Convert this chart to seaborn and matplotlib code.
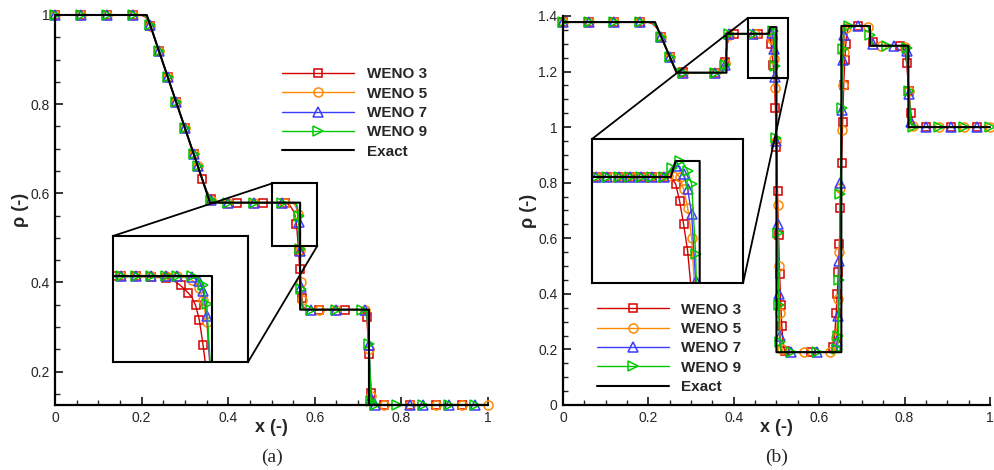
import matplotlib
matplotlib.use("Agg")
import matplotlib.pyplot as plt
import seaborn as sns
from matplotlib.lines import Line2D
from matplotlib.patches import Rectangle, ConnectionPatch
from matplotlib.ticker import MultipleLocator, FuncFormatter

# ---------------- panel (a) ----------------
x_a = [0.0, 0.03, 0.06, 0.09, 0.12, 0.15, 0.18, 0.20,
       0.21, 0.22, 0.23, 0.24, 0.25, 0.26, 0.27, 0.28, 0.29, 0.30, 0.31, 0.32, 0.33, 0.34, 0.35, 0.36, 0.37,
       0.38, 0.40, 0.42, 0.44, 0.46, 0.48,
       0.49, 0.495, 0.50, 0.505, 0.51, 0.515, 0.52, 0.525, 0.53, 0.535, 0.54,
       0.5425, 0.545, 0.5475, 0.55, 0.5525, 0.555, 0.5575, 0.56, 0.5625, 0.565, 0.5675, 0.57, 0.5725, 0.575, 0.5775, 0.58,
       0.59, 0.61, 0.63, 0.65, 0.67, 0.69, 0.70,
       0.71, 0.715, 0.72, 0.725, 0.73, 0.735, 0.74,
       0.76, 0.79, 0.82, 0.85, 0.88, 0.91, 0.94, 0.97, 1.0]

weno3_a = [1.0, 1.0, 1.0, 1.0, 1.0, 1.0, 1.0, 0.999,
           0.995, 0.975, 0.948, 0.919, 0.891, 0.862, 0.833, 0.804, 0.776, 0.747, 0.718, 0.689, 0.661, 0.633, 0.606, 0.588, 0.582,
           0.580, 0.579, 0.579, 0.579, 0.579, 0.579,
           0.579, 0.579, 0.579, 0.579, 0.579, 0.579, 0.579, 0.578, 0.578, 0.577, 0.575,
           0.572, 0.569, 0.565, 0.561, 0.556, 0.547, 0.531, 0.503, 0.470, 0.430, 0.390, 0.365, 0.350, 0.343, 0.340, 0.339,
           0.339, 0.339, 0.339, 0.339, 0.339, 0.339, 0.339,
           0.338, 0.336, 0.322, 0.240, 0.152, 0.129, 0.125,
           0.125, 0.125, 0.125, 0.125, 0.125, 0.125, 0.125, 0.125, 0.125]
weno5_a = [1.0, 1.0, 1.0, 1.0, 1.0, 1.0, 1.0, 1.0,
           0.997, 0.976, 0.948, 0.919, 0.891, 0.862, 0.833, 0.804, 0.776, 0.747, 0.718, 0.689, 0.661, 0.632, 0.605, 0.586, 0.581,
           0.579, 0.579, 0.579, 0.579, 0.579, 0.579,
           0.579, 0.579, 0.579, 0.579, 0.579, 0.579, 0.579, 0.579, 0.579, 0.579, 0.579,
           0.579, 0.579, 0.578, 0.577, 0.575, 0.572, 0.566, 0.553, 0.528, 0.472, 0.400, 0.360, 0.345, 0.340, 0.339, 0.339,
           0.339, 0.339, 0.339, 0.339, 0.339, 0.339, 0.339,
           0.339, 0.338, 0.330, 0.250, 0.145, 0.126, 0.125,
           0.125, 0.125, 0.125, 0.125, 0.125, 0.125, 0.125, 0.125, 0.125]
weno7_a = [1.0, 1.0, 1.0, 1.0, 1.0, 1.0, 1.0, 1.0,
           0.998, 0.977, 0.948, 0.919, 0.891, 0.862, 0.833, 0.804, 0.776, 0.747, 0.718, 0.689, 0.661, 0.632, 0.604, 0.585, 0.580,
           0.579, 0.579, 0.579, 0.579, 0.579, 0.579,
           0.579, 0.579, 0.579, 0.579, 0.579, 0.579, 0.579, 0.579, 0.579, 0.579, 0.579,
           0.579, 0.579, 0.579, 0.579, 0.578, 0.577, 0.574, 0.563, 0.535, 0.470, 0.390, 0.352, 0.342, 0.339, 0.339, 0.339,
           0.339, 0.339, 0.339, 0.339, 0.339, 0.339, 0.339,
           0.339, 0.339, 0.334, 0.260, 0.140, 0.125, 0.125,
           0.125, 0.125, 0.125, 0.125, 0.125, 0.125, 0.125, 0.125, 0.125]
weno9_a = [1.0, 1.0, 1.0, 1.0, 1.0, 1.0, 1.0, 1.0,
           0.998, 0.977, 0.948, 0.919, 0.891, 0.862, 0.833, 0.804, 0.776, 0.747, 0.718, 0.689, 0.661, 0.632, 0.604, 0.584, 0.580,
           0.579, 0.579, 0.579, 0.579, 0.579, 0.579,
           0.579, 0.579, 0.579, 0.579, 0.579, 0.579, 0.579, 0.579, 0.579, 0.579, 0.579,
           0.579, 0.579, 0.579, 0.579, 0.579, 0.578, 0.577, 0.569, 0.548, 0.475, 0.385, 0.348, 0.340, 0.339, 0.339, 0.339,
           0.339, 0.339, 0.339, 0.339, 0.339, 0.339, 0.339,
           0.339, 0.339, 0.336, 0.262, 0.135, 0.125, 0.125,
           0.125, 0.125, 0.125, 0.125, 0.125, 0.125, 0.125, 0.125, 0.125]
exact_x_a = [0.0, 0.212, 0.358, 0.566, 0.566, 0.725, 0.725, 1.0]
exact_y_a = [1.0, 1.0, 0.579, 0.579, 0.339, 0.339, 0.125, 0.125]

# ---------------- panel (b) ----------------
x_b = [0.0, 0.03, 0.06, 0.09, 0.12, 0.15, 0.18, 0.20,
       0.21, 0.22, 0.23, 0.24, 0.25, 0.26, 0.27, 0.28,
       0.30, 0.33, 0.355, 0.37,
       0.375, 0.38, 0.385, 0.39,
       0.40, 0.415, 0.43, 0.4355, 0.439, 0.4425, 0.446, 0.4495, 0.453, 0.4565, 0.46, 0.4635, 0.467, 0.4705, 0.474, 0.4775, 0.48,
       0.4825, 0.485, 0.4875, 0.49, 0.4925, 0.495, 0.4975, 0.50, 0.5025, 0.505, 0.5075, 0.51, 0.5125, 0.515, 0.5175, 0.52,
       0.535, 0.55, 0.565, 0.58, 0.595, 0.61, 0.625,
       0.63, 0.6325, 0.635, 0.6375, 0.64, 0.6425, 0.645, 0.6475, 0.65, 0.6525, 0.655, 0.6575, 0.66, 0.6625, 0.665, 0.6675, 0.67,
       0.68, 0.69, 0.70, 0.71,
       0.715, 0.72, 0.725, 0.73,
       0.745, 0.76, 0.775, 0.79,
       0.795, 0.80, 0.805, 0.81, 0.815, 0.82, 0.825,
       0.85, 0.88, 0.91, 0.94, 0.97, 1.0]

weno3_b = [1.378, 1.378, 1.378, 1.378, 1.378, 1.378, 1.378, 1.377,
           1.372, 1.356, 1.326, 1.290, 1.254, 1.220, 1.201, 1.197,
           1.196, 1.196, 1.196, 1.197,
           1.202, 1.235, 1.300, 1.328,
           1.334, 1.336, 1.336, 1.336, 1.336, 1.336, 1.336, 1.336, 1.336, 1.336, 1.336, 1.336, 1.336, 1.336, 1.336, 1.336, 1.336,
           1.334, 1.326, 1.300, 1.265, 1.225, 1.160, 1.070, 0.930, 0.770, 0.610, 0.470, 0.360, 0.285, 0.235, 0.205, 0.194,
           0.191, 0.190, 0.190, 0.190, 0.190, 0.190, 0.190,
           0.195, 0.210, 0.235, 0.275, 0.330, 0.400, 0.480, 0.580, 0.710, 0.870, 1.020, 1.150, 1.240, 1.300, 1.335, 1.352, 1.360,
           1.364, 1.364, 1.364, 1.364,
           1.360, 1.335, 1.305, 1.295,
           1.293, 1.293, 1.293, 1.293,
           1.290, 1.275, 1.230, 1.130, 1.050, 1.015, 1.003,
           1.0, 1.0, 1.0, 1.0, 1.0, 1.0]
weno5_b = [1.378, 1.378, 1.378, 1.378, 1.378, 1.378, 1.378, 1.378,
           1.375, 1.358, 1.326, 1.290, 1.254, 1.219, 1.199, 1.196,
           1.196, 1.196, 1.196, 1.196,
           1.198, 1.230, 1.310, 1.333,
           1.336, 1.336, 1.336, 1.336, 1.336, 1.336, 1.336, 1.336, 1.336, 1.336, 1.336, 1.336, 1.336, 1.336, 1.336, 1.336, 1.338,
           1.342, 1.343, 1.336, 1.318, 1.290, 1.245, 1.140, 0.950, 0.720, 0.500, 0.330, 0.240, 0.203, 0.192, 0.190, 0.190,
           0.190, 0.190, 0.190, 0.190, 0.190, 0.190, 0.190,
           0.190, 0.190, 0.195, 0.210, 0.240, 0.300, 0.380, 0.550, 0.780, 0.990, 1.150, 1.270, 1.330, 1.355, 1.362, 1.364, 1.364,
           1.364, 1.364, 1.364, 1.364,
           1.362, 1.335, 1.300, 1.293,
           1.293, 1.293, 1.293, 1.293,
           1.293, 1.290, 1.260, 1.130, 1.030, 1.003, 1.0,
           1.0, 1.0, 1.0, 1.0, 1.0, 1.0]
weno7_b = [1.378, 1.378, 1.378, 1.378, 1.378, 1.378, 1.378, 1.378,
           1.376, 1.359, 1.326, 1.290, 1.254, 1.219, 1.198, 1.196,
           1.196, 1.196, 1.196, 1.196,
           1.197, 1.225, 1.318, 1.335,
           1.336, 1.336, 1.336, 1.336, 1.336, 1.336, 1.336, 1.336, 1.336, 1.336, 1.336, 1.336, 1.336, 1.336, 1.336, 1.336, 1.340,
           1.347, 1.352, 1.352, 1.340, 1.318, 1.280, 1.180, 0.950, 0.650, 0.400, 0.250, 0.200, 0.190, 0.190, 0.190, 0.190,
           0.190, 0.190, 0.190, 0.190, 0.190, 0.190, 0.190,
           0.190, 0.190, 0.190, 0.190, 0.200, 0.230, 0.320, 0.520, 0.800, 1.060, 1.240, 1.330, 1.360, 1.366, 1.366, 1.364, 1.364,
           1.364, 1.364, 1.364, 1.364,
           1.363, 1.330, 1.298, 1.293,
           1.293, 1.293, 1.293, 1.293,
           1.293, 1.292, 1.275, 1.120, 1.020, 1.0, 1.0,
           1.0, 1.0, 1.0, 1.0, 1.0, 1.0]
weno9_b = [1.378, 1.378, 1.378, 1.378, 1.378, 1.378, 1.378, 1.378,
           1.377, 1.359, 1.326, 1.290, 1.254, 1.219, 1.198, 1.196,
           1.196, 1.196, 1.196, 1.196,
           1.196, 1.222, 1.322, 1.336,
           1.336, 1.336, 1.336, 1.336, 1.336, 1.336, 1.336, 1.336, 1.336, 1.336, 1.336, 1.336, 1.336, 1.336, 1.336, 1.336, 1.342,
           1.350, 1.357, 1.360, 1.356, 1.345, 1.325, 1.220, 0.960, 0.620, 0.360, 0.225, 0.193, 0.190, 0.190, 0.190, 0.190,
           0.190, 0.190, 0.190, 0.190, 0.190, 0.190, 0.190,
           0.190, 0.190, 0.190, 0.190, 0.190, 0.200, 0.250, 0.450, 0.760, 1.070, 1.280, 1.350, 1.368, 1.367, 1.364, 1.364, 1.364,
           1.364, 1.364, 1.364, 1.364,
           1.364, 1.330, 1.296, 1.293,
           1.293, 1.293, 1.293, 1.293,
           1.293, 1.293, 1.285, 1.130, 1.012, 1.0, 1.0,
           1.0, 1.0, 1.0, 1.0, 1.0, 1.0]
exact_x_b = [0.0, 0.2155, 0.266, 0.383, 0.383, 0.482, 0.485, 0.500, 0.500, 0.652, 0.652, 0.719, 0.719, 0.809, 0.809, 1.0]
exact_y_b = [1.378, 1.378, 1.196, 1.196, 1.336, 1.336, 1.360, 1.360, 0.190, 0.190, 1.364, 1.364, 1.293, 1.293, 1.0, 1.0]

labels = ["WENO 3", "WENO 5", "WENO 7", "WENO 9", "Exact"]
colors = ["#d40000", "#ff8a00", "#3c3cff", "#00c800"]
markers = ["s", "o", "^", ">"]
msizes = [5.5, 6.5, 6.5, 6.5]

sns.set_style("ticks")
plt.rcParams["font.family"] = ["Liberation Sans", "DejaVu Sans"]

fig = plt.figure(figsize=(9.95, 4.7), dpi=100)


def draw_curves(ax, x, series, ex_x, ex_y, every, clip):
    for y, c, m, ms in zip(series, colors, markers, msizes):
        sns.lineplot(x=x, y=y, ax=ax, color=c, linewidth=1.0, marker=m, markersize=ms,
                     markerfacecolor="none", markeredgecolor=c, markeredgewidth=1.1,
                     markevery=every, estimator=None, sort=False, clip_on=clip, legend=False)
    sns.lineplot(x=ex_x, y=ex_y, ax=ax, color="black", linewidth=1.5,
                 estimator=None, sort=False, clip_on=clip, legend=False)


def style_main(ax, xlim, ylim):
    ax.set_xlim(*xlim)
    ax.set_ylim(*ylim)
    fmt = FuncFormatter(lambda v, p: f"{v:g}")
    for axis in (ax.xaxis, ax.yaxis):
        axis.set_major_locator(MultipleLocator(0.2))
        axis.set_minor_locator(MultipleLocator(0.05))
        axis.set_major_formatter(fmt)
    ax.spines["top"].set_visible(False)
    ax.spines["right"].set_visible(False)
    for s in ("left", "bottom"):
        ax.spines[s].set_linewidth(1.6)
        ax.spines[s].set_color("black")
    ax.tick_params(which="major", direction="in", length=6, width=1.3, labelsize=10, pad=4)
    ax.tick_params(which="minor", direction="in", length=3.5, width=1.0)
    ax.set_xlabel("x (-)", fontsize=13, fontweight="bold", labelpad=-4)
    ax.set_ylabel("ρ (-)", fontsize=13, fontweight="bold", labelpad=0.5)


def style_inset(ax, xlim, ylim):
    ax.set_xlim(*xlim)
    ax.set_ylim(*ylim)
    ax.set_xticks([])
    ax.set_yticks([])
    ax.set_xlabel("")
    ax.set_ylabel("")
    for s in ax.spines.values():
        s.set_visible(True)
        s.set_linewidth(1.5)
        s.set_color("black")


def zoom_box(ax, ins, box):
    x0, x1, y0, y1 = box
    ax.add_patch(Rectangle((x0, y0), x1 - x0, y1 - y0, fill=False, ec="black",
                           lw=1.5, zorder=5, clip_on=False))
    for a, b in (((0, 1), (x0, y1)), ((1, 0), (x1, y0))):
        fig.add_artist(ConnectionPatch(xyA=a, coordsA=ins.transAxes, xyB=b, coordsB=ax.transData,
                                       color="black", lw=1.3))


def add_legend(ax, anchor):
    handles = [Line2D([], [], color=c, lw=1.0, marker=m, markersize=ms, markerfacecolor="none",
                      markeredgecolor=c, markeredgewidth=1.1)
               for c, m, ms in zip(colors, markers, msizes)]
    handles.append(Line2D([], [], color="black", lw=1.5))
    ax.legend(handles, labels, loc="upper left", bbox_to_anchor=anchor, bbox_transform=fig.transFigure,
              frameon=False, handlelength=4.7, handletextpad=0.85, labelspacing=0.35,
              borderpad=0, borderaxespad=0, numpoints=1, prop={"weight": "bold", "size": 11})


# panel (a)
ax_a = fig.add_axes([0.0553, 0.1383, 0.4352, 0.8298])
draw_curves(ax_a, x_a, [weno3_a, weno5_a, weno7_a, weno9_a], exact_x_a, exact_y_a, 0.044, False)
style_main(ax_a, (0, 1), (0.125, 1.0))
add_legend(ax_a, (0.2834, 0.857))

ins_a = fig.add_axes([0.1136, 0.2298, 0.1357, 0.2681])
draw_curves(ins_a, x_a, [weno3_a, weno5_a, weno7_a, weno9_a], exact_x_a, exact_y_a, 0.076, True)
style_inset(ins_a, (0.50, 0.59), (0.484, 0.624))
zoom_box(ax_a, ins_a, (0.501, 0.606, 0.4825, 0.622))

# panel (b)
ax_b = fig.add_axes([0.5658, 0.1383, 0.4291, 0.8277])
draw_curves(ax_b, x_b, [weno3_b, weno5_b, weno7_b, weno9_b], exact_x_b, exact_y_b, 0.044, False)
style_main(ax_b, (0, 1), (0, 1.4))
add_legend(ax_b, (0.5997, 0.356))

ins_b = fig.add_axes([0.595, 0.3979, 0.1518, 0.3064])
draw_curves(ins_b, x_b, [weno3_b, weno5_b, weno7_b, weno9_b], exact_x_b, exact_y_b, 0.056, True)
style_inset(ins_b, (0.433, 0.527), (1.177, 1.393))
zoom_box(ax_b, ins_b, (0.433, 0.527, 1.177, 1.393))

fig.text(272 / 995, 1 - 457 / 470, "(a)", ha="center", va="center", fontsize=14, family="Liberation Serif")
fig.text(777 / 995, 1 - 457 / 470, "(b)", ha="center", va="center", fontsize=14, family="Liberation Serif")

fig.savefig("out.png", dpi=100)
